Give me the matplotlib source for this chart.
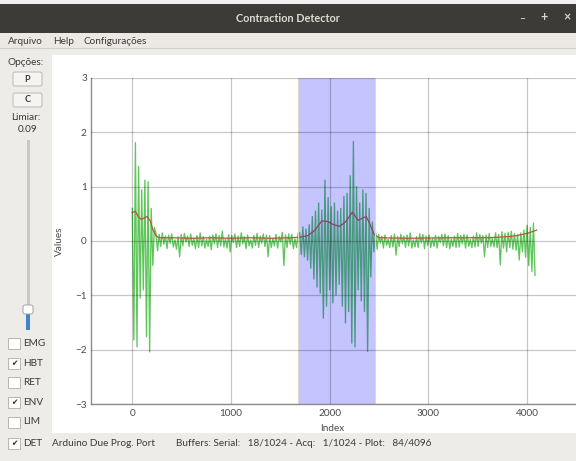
import numpy as np
import matplotlib
matplotlib.use('Agg')
import matplotlib.pyplot as plt
from matplotlib.patches import Rectangle, FancyBboxPatch
from matplotlib.lines import Line2D

plt.rcParams['font.family'] = ['Lato', 'DejaVu Sans']

# ---------------- data ----------------
emg_step = 16
emg_burst1 = [0.6, -1.82, 1.81, -1.95, 1.37, -1.05, 0.94, -0.9, 1.12, -1.76,
              1.09, -2.04, 0.6, -0.45, 0.25]
emg_rest1 = [
    0.14, -0.18, 0.12, -0.10, 0.15, -0.06, 0.09, -0.14, 0.11, -0.04,
    0.13, -0.11, 0.02, -0.15, 0.08, -0.29, 0.12, -0.09, 0.14, -0.02,
    0.09, -0.10, 0.13, -0.08, 0.05, -0.14, 0.10, -0.12, 0.15, -0.09,
    0.08, -0.13, 0.03, -0.10, 0.09, -0.16, 0.11, -0.05, 0.13, -0.12,
    0.10, -0.09, 0.18, -0.11, 0.04, -0.13, 0.12, -0.20, 0.10, -0.03,
    0.13, -0.12, 0.09, -0.10, 0.15, -0.05, 0.08, -0.14, 0.11, -0.09,
    0.02, -0.13, 0.10, -0.08, 0.14, -0.12, 0.09, -0.04, 0.13, -0.10,
    0.11, -0.29, 0.10, -0.12, 0.05, -0.09, 0.12, -0.13, 0.08, -0.02,
    0.16, -0.45, 0.11, -0.12, 0.13, -0.06, 0.12, -0.14, 0.04, -0.12,
    0.15]
emg_burst2 = [
    0.15, -0.25, 0.26, -0.29, 0.22, -0.35, 0.30, -0.50, 0.45, -0.70,
    0.55, -0.85, 0.70, -0.96, 0.57, -1.42, 1.12, -1.20, 0.80, -0.90,
    0.63, -1.14, 0.70, -1.00, 0.55, -0.80, 0.60, -1.20, 0.82, -1.51,
    0.88, -1.30, 1.20, -1.88, 1.83, -1.95, 1.00, -0.90, 0.70, -1.10,
    0.94, -1.30, 0.88, -2.03, 0.60, -0.66, 0.35, -0.20]
emg_rest2 = [
    0.18, -0.15, 0.12, -0.04, 0.09, -0.13, 0.11, -0.08, 0.03, -0.12,
    0.10, -0.11, 0.13, -0.26, 0.08, -0.10, 0.12, -0.05, 0.09, -0.12,
    0.11, -0.09, 0.15, -0.13, 0.02, -0.11, 0.08, -0.12, 0.13, -0.04,
    0.12, -0.14, 0.09, -0.08, 0.11, -0.12, 0.05, -0.10, 0.10, -0.13,
    0.08, -0.03, 0.12, -0.09, 0.13, -0.12, 0.10, -0.14, 0.04, -0.10,
    0.09, -0.12, 0.14, -0.11, 0.10, -0.05, 0.12, -0.13, 0.11, -0.10,
    0.03, -0.12, 0.09, -0.11, 0.15, -0.10, 0.12, -0.04, 0.10, -0.29,
    0.11, -0.12, 0.14, -0.10, 0.05, -0.11, 0.15, -0.12, 0.12, -0.44,
    0.17, -0.13, 0.14, -0.20, 0.16, -0.12, 0.18, -0.15, 0.14, -0.17]
emg_tail = [0.12, -0.35, 0.15, -0.20, 0.20, -0.30, 0.29, -0.45, 0.25, -0.56,
            0.33, -0.63]

env_idx = [0, 30, 60, 90, 120, 150, 180, 210, 240, 270, 400, 600, 800, 1000,
           1200, 1400, 1600, 1700, 1780, 1850, 1920, 1980, 2040, 2100, 2160,
           2230, 2290, 2330, 2370, 2410, 2450, 2500, 2800, 3200, 3600, 3800,
           3900, 4000, 4096]
env_val = [0.52, 0.55, 0.45, 0.40, 0.42, 0.45, 0.38, 0.20, 0.10, 0.06, 0.06,
           0.05, 0.06, 0.05, 0.06, 0.05, 0.06, 0.07, 0.10, 0.20, 0.37, 0.36,
           0.30, 0.27, 0.35, 0.53, 0.38, 0.42, 0.45, 0.30, 0.12, 0.06, 0.05,
           0.06, 0.06, 0.08, 0.10, 0.14, 0.20]

region = [1682, 2459]
x_ticks = [0, 1000, 2000, 3000, 4000]
y_ticks = [-3, -2, -1, 0, 1, 2, 3]

checkboxes = ['EMG', 'HBT', 'RET', 'ENV', 'LIM', 'DET']
checked = [False, True, False, True, False, True]

# ---------------- figure / UI ----------------
W, H = 576, 461
UI = '#eeece9'
fig = plt.figure(figsize=(W / 100, H / 100), dpi=100, facecolor=UI)


def fx(x):
    return x / W


def fy(y):
    return 1 - y / H


def rect(x0, y0, x1, y1, **kw):
    fig.patches.append(Rectangle((fx(x0), fy(y1)), (x1 - x0) / W, (y1 - y0) / H,
                                 transform=fig.transFigure, figure=fig,
                                 zorder=-2, **kw))


def rrect(x0, y0, x1, y1, **kw):
    fig.patches.append(FancyBboxPatch((fx(x0), fy(y1)), (x1 - x0) / W, (y1 - y0) / H,
                                      boxstyle='round,pad=0,rounding_size=0.004',
                                      transform=fig.transFigure, figure=fig,
                                      zorder=-1, **kw))


def txt(x, y, s, **kw):
    kw.setdefault('va', 'center')
    kw.setdefault('fontsize', 7.2)
    kw.setdefault('color', '#3a3a3a')
    fig.text(fx(x), fy(y), s, **kw)


# title bar
rect(0, 0, 576, 4, color='#f0f0f0', lw=0)
rect(0, 4, 576, 33, color='#3c3b37', lw=0)
txt(288, 18, 'Contraction Detector', ha='center', color='#dfdbd2',
    weight='bold', fontsize=7.8)
txt(522, 19, '\u2013', ha='center', color='#d8d4ce', weight='bold', fontsize=7.5)
txt(544, 17.5, '+', ha='center', color='#d8d4ce', weight='bold', fontsize=9)
txt(567, 17.5, '\u00d7', ha='center', color='#d8d4ce', weight='bold', fontsize=9)

# menu bar
rect(0, 33, 576, 48, color='#ece9e5', lw=0)
fig.add_artist(Line2D([0, 1], [fy(48.5), fy(48.5)], color='#d4d0ca', lw=0.8,
                      transform=fig.transFigure, zorder=-1))
txt(8, 42, 'Arquivo')
txt(53, 42, 'Help')
txt(83, 42, 'Configurações')

# plot white area
rect(52, 55, 576, 433, color='white', lw=0)

# left panel
txt(8, 62, 'Opções:')
rrect(13, 72, 42, 86, facecolor='#f5f4f2', edgecolor='#bdb8b2', lw=0.7)
txt(27.5, 79, 'P', ha='center', weight='bold', fontsize=6.5)
rrect(13, 93, 42, 107, facecolor='#f5f4f2', edgecolor='#bdb8b2', lw=0.7)
txt(27.5, 100, 'C', ha='center', weight='bold', fontsize=6.5)
txt(26, 118, 'Limiar:', ha='center')
txt(28, 129, '0.09', ha='center')
rect(26.5, 140, 29.5, 314, color='#cbc8c4', lw=0)
rect(26, 314, 30, 330, color='#3d86c8', lw=0)
rrect(23, 305, 33, 314, facecolor='white', edgecolor='#a8a4a0', lw=0.7)

cb_y = [343, 363, 382, 402, 422, 443]
for lab, yy, on in zip(checkboxes, cb_y, checked):
    rect(8, yy - 5.5, 19.5, yy + 5.5, facecolor='white', edgecolor='#b9b5b0', lw=0.7)
    if on:
        txt(13.8, yy, '\u2714', ha='center', fontsize=5.5, color='#2e2e2e',
            family='DejaVu Sans')
    txt(23, yy, lab)

# status bar
txt(52, 443, 'Arduino Due Prog. Port')
txt(176, 443, 'Buffers: Serial:   18/1024 - Acq:   1/1024 - Plot:   84/4096')

# ---------------- plot ----------------
ax = fig.add_axes([fx(91), fy(404), (576 - 91) / W, (404 - 78) / H])
ax.set_zorder(1)
ax.patch.set_alpha(0)

emg = np.concatenate([emg_burst1, emg_rest1, emg_burst2, emg_rest2, emg_tail])
emg_x = np.arange(len(emg)) * emg_step
ax.plot(emg_x, emg, color='#5ec65a', lw=0.95, zorder=2)
ax.plot(env_idx, env_val, color='#b8563a', lw=0.9, zorder=2.1)

ax.axvspan(region[0], region[1], color=(0.0, 0.0, 1.0), alpha=0.23, lw=0, zorder=2.2)
for xv in region:
    ax.axvline(xv, color='#dcdcc4', lw=0.8, zorder=2.3)

ax.set_xlim(-418, 4495)
ax.set_ylim(-3, 3)
ax.set_xticks(x_ticks)
ax.set_yticks(y_ticks)
ax.set_axisbelow(False)
ax.grid(True, color='black', alpha=0.22, lw=0.9)
for s in ['top', 'right']:
    ax.spines[s].set_visible(False)
for s in ['left', 'bottom']:
    ax.spines[s].set_color('#8c8c8c')
    ax.spines[s].set_linewidth(1.0)
ax.tick_params(length=0, labelsize=7.2, labelcolor='#4a4a4a')
ax.tick_params(axis='y', pad=3)
ax.tick_params(axis='x', pad=3.5)

txt(59, 241, 'Values', ha='center', rotation=90, color='#4a4a4a')
txt(332, 428, 'Index', ha='center', color='#4a4a4a')

fig.savefig('out.png', dpi=100, facecolor=UI)
